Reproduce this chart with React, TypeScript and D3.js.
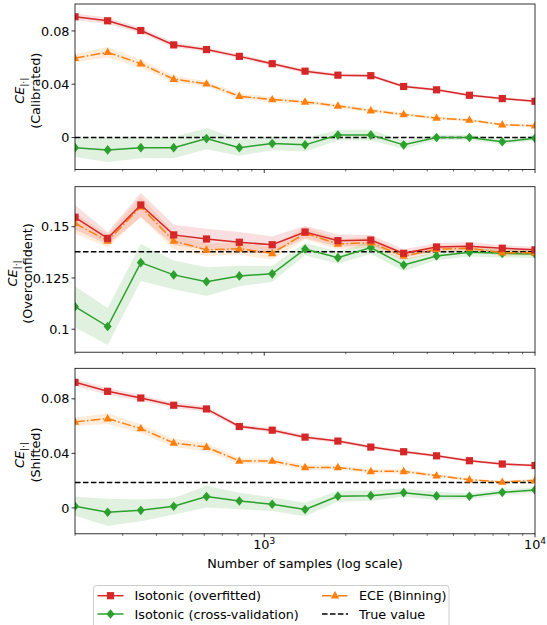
import React from "react";
import * as d3 from "d3";

const samples = [200, 264, 350, 463, 612, 809, 1070, 1415, 1871, 2475, 3273, 4329, 5725, 7571, 10000];

// Panel 1: Calibrated
const calRed = [0.0906, 0.0876, 0.0803, 0.0695, 0.066, 0.0609, 0.0554, 0.0498, 0.0468, 0.0464, 0.0383, 0.0358, 0.0317, 0.0292, 0.0272];
const calOrange = [0.0596, 0.064, 0.0554, 0.0438, 0.0403, 0.031, 0.0285, 0.0267, 0.0237, 0.0202, 0.0174, 0.0146, 0.0131, 0.0096, 0.0088];
const calGreen = [-0.0076, -0.0093, -0.0076, -0.0076, -0.0008, -0.0076, -0.0045, -0.0055, 0.0018, 0.0018, -0.0055, 0.0, 0.0, -0.0032, -0.0005];
const calRedErr = [0.0025, 0.0025, 0.002, 0.002, 0.0015, 0.0015, 0.0015, 0.0015, 0.0012, 0.0012, 0.0012, 0.001, 0.001, 0.001, 0.001];
const calOrangeErr = [0.003, 0.004, 0.003, 0.0025, 0.002, 0.002, 0.002, 0.0015, 0.0015, 0.0015, 0.0012, 0.0012, 0.001, 0.001, 0.001];
const calGreenErr = [0.007, 0.009, 0.008, 0.008, 0.008, 0.006, 0.005, 0.005, 0.004, 0.004, 0.003, 0.002, 0.002, 0.002, 0.002];
const calTrue = 0;

// Panel 2: Overconfident
const ovRed = [0.1546, 0.1443, 0.1606, 0.146, 0.144, 0.1424, 0.1412, 0.1474, 0.1432, 0.1435, 0.137, 0.1401, 0.1405, 0.1395, 0.1387];
const ovOrange = [0.1517, 0.143, 0.1597, 0.143, 0.1387, 0.1393, 0.137, 0.1468, 0.1416, 0.1422, 0.1357, 0.139, 0.1395, 0.1373, 0.1373];
const ovGreen = [0.111, 0.1013, 0.1325, 0.1265, 0.1232, 0.126, 0.127, 0.1391, 0.1349, 0.1398, 0.1313, 0.1357, 0.1375, 0.137, 0.1367];
const ovRedErr = [0.006, 0.003, 0.006, 0.005, 0.005, 0.005, 0.004, 0.003, 0.003, 0.0025, 0.002, 0.002, 0.002, 0.0015, 0.0015];
const ovOrangeErr = [0.005, 0.003, 0.005, 0.004, 0.003, 0.003, 0.003, 0.003, 0.0025, 0.0025, 0.002, 0.002, 0.0015, 0.0015, 0.0015];
const ovGreenErr = [0.01, 0.009, 0.009, 0.007, 0.007, 0.005, 0.004, 0.003, 0.003, 0.003, 0.003, 0.002, 0.002, 0.002, 0.002];
const ovTrue = 0.1378;

// Panel 3: Shifted
const shRed = [0.0921, 0.0855, 0.0806, 0.0753, 0.0726, 0.0597, 0.057, 0.0519, 0.049, 0.0446, 0.0412, 0.0382, 0.0346, 0.0322, 0.0311];
const shOrange = [0.0631, 0.0655, 0.0582, 0.0477, 0.0446, 0.0344, 0.0344, 0.0297, 0.0297, 0.0268, 0.0268, 0.0236, 0.0207, 0.019, 0.0202];
const shGreen = [0.0012, -0.0032, -0.0018, 0.0012, 0.0083, 0.0051, 0.0027, -0.0012, 0.0085, 0.009, 0.0112, 0.0088, 0.0085, 0.0114, 0.0132];
const shRedErr = [0.0025, 0.0025, 0.002, 0.002, 0.002, 0.0015, 0.0015, 0.0015, 0.0012, 0.0012, 0.0012, 0.001, 0.001, 0.001, 0.001];
const shOrangeErr = [0.003, 0.004, 0.003, 0.003, 0.003, 0.002, 0.002, 0.002, 0.0015, 0.0015, 0.0015, 0.0012, 0.001, 0.001, 0.001];
const shGreenErr = [0.007, 0.01, 0.008, 0.006, 0.008, 0.006, 0.005, 0.005, 0.004, 0.004, 0.003, 0.003, 0.002, 0.002, 0.002];
const shTrue = 0.0187;

const panelNames = ["(Calibrated)", "(Overconfident)", "(Shifted)"];
const panelDomains: [number, number][] = [[-0.024, 0.1002], [0.0888, 0.1695], [-0.019, 0.1024]];
const panelTicks = [[0, 0.04, 0.08], [0.1, 0.125, 0.15], [0, 0.04, 0.08]];
const panelTickLabels = [["0", "0.04", "0.08"], ["0.1", "0.125", "0.15"], ["0", "0.04", "0.08"]];
const panelTops = [4, 186.7, 368.3];
const legendLabels = ["Isotonic (overfitted)", "Isotonic (cross-validation)", "ECE (Binning)", "True value"];

const RED = "#d62728";
const ORANGE = "#ff7f0e";
const GREEN = "#2ca02c";
const FONT = "DejaVu Sans, sans-serif";
const FS = 12.8;

const W = 547, H = 625;
const L = 75, R = 535, PH = 165.5;
const labelX = [[24, 39.5], [17, 32], [24, 39.5]];

function Marker({ kind, x, y, color }: { kind: string; x: number; y: number; color: string }) {
  if (kind === "s") return <rect x={x - 3.6} y={y - 3.6} width={7.2} height={7.2} fill={color} />;
  if (kind === "^") return <path d={`M${x},${y - 4.6} L${x + 4.2},${y + 2.8} L${x - 4.2},${y + 2.8} Z`} fill={color} />;
  return <path d={`M${x},${y - 4.8} L${x + 4},${y} L${x},${y + 4.8} L${x - 4},${y} Z`} fill={color} />;
}

export default function App() {
  const x = d3.scaleLog().domain([200, 10000]).range([L, R]);
  const panels = [
    { series: [[calRed, calRedErr], [calOrange, calOrangeErr], [calGreen, calGreenErr]], truth: calTrue },
    { series: [[ovRed, ovRedErr], [ovOrange, ovOrangeErr], [ovGreen, ovGreenErr]], truth: ovTrue },
    { series: [[shRed, shRedErr], [shOrange, shOrangeErr], [shGreen, shGreenErr]], truth: shTrue },
  ];
  const colors = [RED, ORANGE, GREEN];
  const kinds = ["s", "^", "D"];
  const dashes = ["", "9.6,2.4,1.5,2.4", ""];
  const minorTicks: number[] = [];
  for (const dec of [100, 1000]) for (let k = 2; k <= 9; k++) { const v = k * dec; if (v >= 200 && v <= 10000) minorTicks.push(v); }
  const majorTicks = [1000, 10000];

  return (
    <svg width={W} height={H} style={{ position: "absolute", left: 0, top: 0, background: "#fff" }} fontFamily={FONT}>
      <rect width={W} height={H} fill="#fff" />
      {panels.map((p, pi) => {
        const top = panelTops[pi];
        const bottom = top + PH;
        const y = d3.scaleLinear().domain(panelDomains[pi]).range([bottom, top]);
        const cy = (top + bottom) / 2 + 4;
        const order = [2, 1, 0];
        return (
          <g key={pi}>
            <defs>
              <clipPath id={`clip${pi}`}><rect x={L} y={top} width={R - L} height={PH} /></clipPath>
            </defs>
            <g clipPath={`url(#clip${pi})`}>
              {order.map((si) => {
                const [vals, err] = p.series[si];
                const area = d3.area<number>().x((_, i) => x(samples[i])).y0((d, i) => y(d - err[i])).y1((d, i) => y(d + err[i]));
                return <path key={"a" + si} d={area(vals) || ""} fill={colors[si]} fillOpacity={0.15} stroke="none" />;
              })}
              <line x1={L} x2={R} y1={y(p.truth)} y2={y(p.truth)} stroke="#000" strokeWidth={1.5} strokeDasharray="5.55,2.4" />
              {order.map((si) => {
                const [vals] = p.series[si];
                const line = d3.line<number>().x((_, i) => x(samples[i])).y((d) => y(d));
                return (
                  <g key={"l" + si}>
                    <path d={line(vals) || ""} fill="none" stroke={colors[si]} strokeWidth={1.5} strokeDasharray={dashes[si] || undefined} />
                    {vals.map((v, i) => <Marker key={i} kind={kinds[si]} x={x(samples[i])} y={y(v)} color={colors[si]} />)}
                  </g>
                );
              })}
            </g>
            <rect x={L} y={top} width={R - L} height={PH} fill="none" stroke="#000" strokeWidth={0.8} />
            {panelTicks[pi].map((t, ti) => (
              <g key={ti}>
                <line x1={L - 3.5} x2={L} y1={y(t)} y2={y(t)} stroke="#000" strokeWidth={0.8} />
                <text x={L - 5.5} y={y(t)} dy="0.36em" textAnchor="end" fontSize={FS} fill="#000">{panelTickLabels[pi][ti]}</text>
              </g>
            ))}
            {majorTicks.map((t) => <line key={t} x1={x(t)} x2={x(t)} y1={bottom} y2={bottom + 3.5} stroke="#000" strokeWidth={0.8} />)}
            {minorTicks.map((t) => <line key={t} x1={x(t)} x2={x(t)} y1={bottom} y2={bottom + 2} stroke="#000" strokeWidth={0.6} />)}
            <g transform={`translate(${labelX[pi][0]},${cy}) rotate(-90)`}>
              <text textAnchor="middle" fontSize={FS} fill="#000">
                <tspan fontStyle="italic">CE</tspan>
                <tspan fontSize={9} dy={2.5}>|·|</tspan>
              </text>
            </g>
            <g transform={`translate(${labelX[pi][1]},${cy}) rotate(-90)`}>
              <text textAnchor="middle" fontSize={FS} fill="#000">{panelNames[pi]}</text>
            </g>
          </g>
        );
      })}
      {[["10", "3", 1000], ["10", "4", 10000]].map(([b, e, v]) => (
        <text key={String(v)} x={x(v as number)} y={548.5} textAnchor="middle" fontSize={FS} fill="#000">
          {b}<tspan fontSize={9} dy={-5}>{e}</tspan>
        </text>
      ))}
      <text x={(L + R) / 2} y={568} textAnchor="middle" fontSize={FS} fill="#000">Number of samples (log scale)</text>
      <rect x={93.5} y={585.5} width={355.5} height={48} rx={3} fill="#fff" stroke="#ccc" strokeWidth={1} />
      {[
        { lab: legendLabels[0], c: RED, k: "s", dash: "", lx: 97.5, ly: 595.7 },
        { lab: legendLabels[1], c: GREEN, k: "D", dash: "", lx: 97.5, ly: 614 },
        { lab: legendLabels[2], c: ORANGE, k: "^", dash: "9.6,2.4,1.5,2.4", lx: 322, ly: 595.7 },
        { lab: legendLabels[3], c: "#000", k: "", dash: "5.55,2.4", lx: 322, ly: 614 },
      ].map((e, i) => (
        <g key={i}>
          <line x1={e.lx} x2={e.lx + 26} y1={e.ly} y2={e.ly} stroke={e.c} strokeWidth={1.5} strokeDasharray={e.dash || undefined} />
          {e.k && <Marker kind={e.k} x={e.lx + 13} y={e.ly} color={e.c} />}
          <text x={e.lx + 37} y={e.ly} dy="0.36em" fontSize={FS} fill="#000">{e.lab}</text>
        </g>
      ))}
    </svg>
  );
}
